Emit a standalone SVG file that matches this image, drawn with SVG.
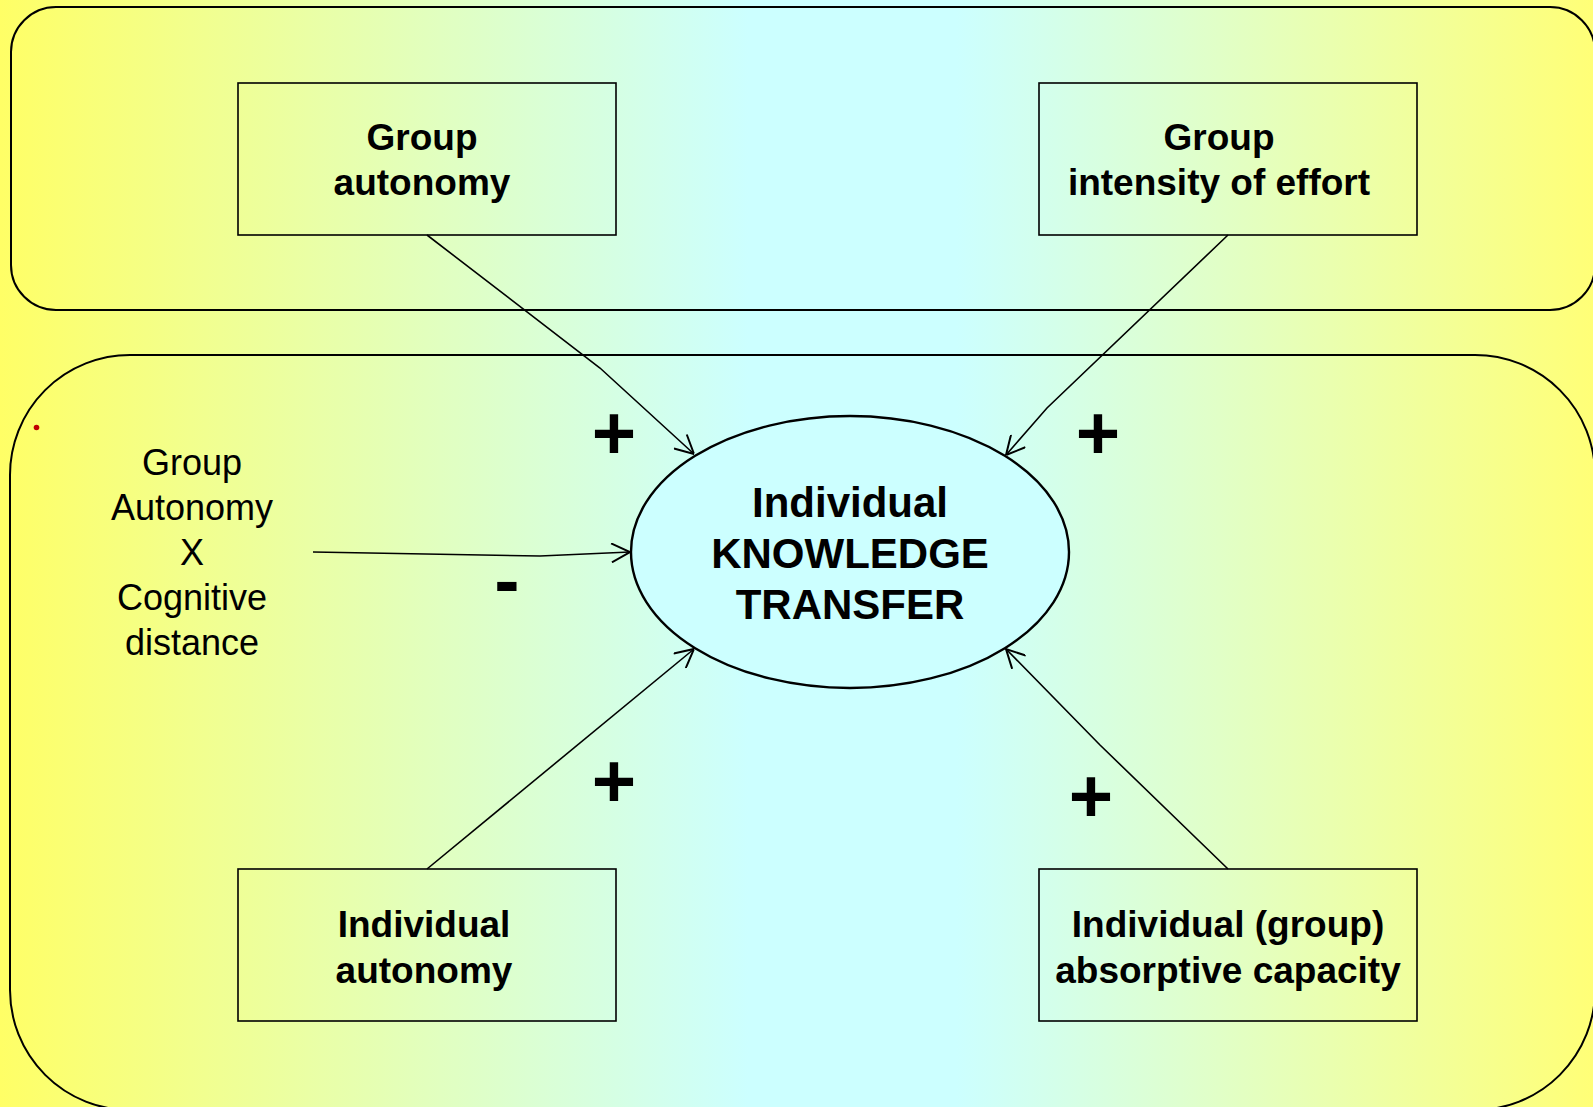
<svg xmlns="http://www.w3.org/2000/svg" width="1593" height="1107" viewBox="0 0 1593 1107">
<defs>
<linearGradient id="bg" x1="0" y1="0" x2="1593" y2="0" gradientUnits="userSpaceOnUse">
<stop offset="0" stop-color="#FFFF66"/>
<stop offset="0.47" stop-color="#CCFFFF"/>
<stop offset="0.6" stop-color="#CCFFFF"/>
<stop offset="1" stop-color="#FFFF77"/>
</linearGradient>
<marker id="arr" viewBox="0 0 20 20" refX="20" refY="10" markerWidth="20" markerHeight="20" markerUnits="userSpaceOnUse" orient="auto">
<path d="M1.5,0.5 L20,10 L1.5,19.5" fill="none" stroke="#000" stroke-width="2"/>
</marker>
</defs>
<style>
.frame{fill:none;stroke:#000;stroke-width:2}
.box{fill:none;stroke:#000;stroke-width:1.6}
.bt{font-family:"Liberation Sans",Arial,sans-serif;font-weight:bold;font-size:37px;text-anchor:middle;fill:#000}
.lt{font-family:"Liberation Sans",Arial,sans-serif;font-size:36px;text-anchor:middle;fill:#000}
.ct{font-family:"Liberation Sans",Arial,sans-serif;font-weight:bold;font-size:42px;text-anchor:middle;fill:#000}
.sign{font-family:"Liberation Sans",Arial,sans-serif;font-weight:bold;font-size:76px;text-anchor:middle;fill:#000}
.con{fill:none;stroke:#000;stroke-width:1.6;marker-end:url(#arr)}
</style>
<rect x="0" y="0" width="1593" height="1107" fill="url(#bg)"/>
<g id="frames">
<rect class="frame" x="11" y="7" width="1584" height="303" rx="45" ry="45"/>
<rect class="frame" x="10" y="355" width="1585" height="755" rx="120" ry="120"/>
<circle cx="36.5" cy="427.5" r="2.8" fill="#C00000"/>
</g>
<g id="connectors">
<polyline class="con" points="427,235 600,368 694,454"/>
<polyline class="con" points="1228,235 1047,408 1006,455"/>
<polyline class="con" points="313,552 540,556 630,552"/>
<polyline class="con" points="427,869 694,649"/>
<polyline class="con" points="1228,869 1100,745 1006,649"/>
</g>
<g id="node-group-autonomy">
<rect class="box" x="238" y="83" width="378" height="152"/>
<text class="bt" x="422" y="150">Group</text>
<text class="bt" x="422" y="195">autonomy</text>
</g>
<g id="node-group-intensity">
<rect class="box" x="1039" y="83" width="378" height="152"/>
<text class="bt" x="1219" y="150">Group</text>
<text class="bt" x="1219" y="195">intensity of effort</text>
</g>
<g id="node-individual-autonomy">
<rect class="box" x="238" y="869" width="378" height="152"/>
<text class="bt" x="424" y="937">Individual</text>
<text class="bt" x="424" y="983">autonomy</text>
</g>
<g id="node-absorptive">
<rect class="box" x="1039" y="869" width="378" height="152"/>
<text class="bt" x="1228" y="937">Individual (group)</text>
<text class="bt" x="1228" y="983">absorptive capacity</text>
</g>
<g id="node-interaction">
<text class="lt" x="192" y="475">Group</text>
<text class="lt" x="192" y="520">Autonomy</text>
<text class="lt" x="192" y="565">X</text>
<text class="lt" x="192" y="610">Cognitive</text>
<text class="lt" x="192" y="655">distance</text>
</g>
<g id="node-knowledge-transfer">
<ellipse cx="850" cy="552" rx="219" ry="136" fill="#CCFFFF" stroke="#000" stroke-width="2.4"/>
<text class="ct" x="850" y="517">Individual</text>
<text class="ct" x="850" y="568">KNOWLEDGE</text>
<text class="ct" x="850" y="619">TRANSFER</text>
</g>
<g id="signs">
<text class="sign" x="614" y="459">+</text>
<text class="sign" x="1098" y="459">+</text>
<text class="sign" x="614" y="807">+</text>
<text class="sign" x="1091" y="822">+</text>
<text class="sign" x="507" y="606">-</text>
</g>
</svg>
